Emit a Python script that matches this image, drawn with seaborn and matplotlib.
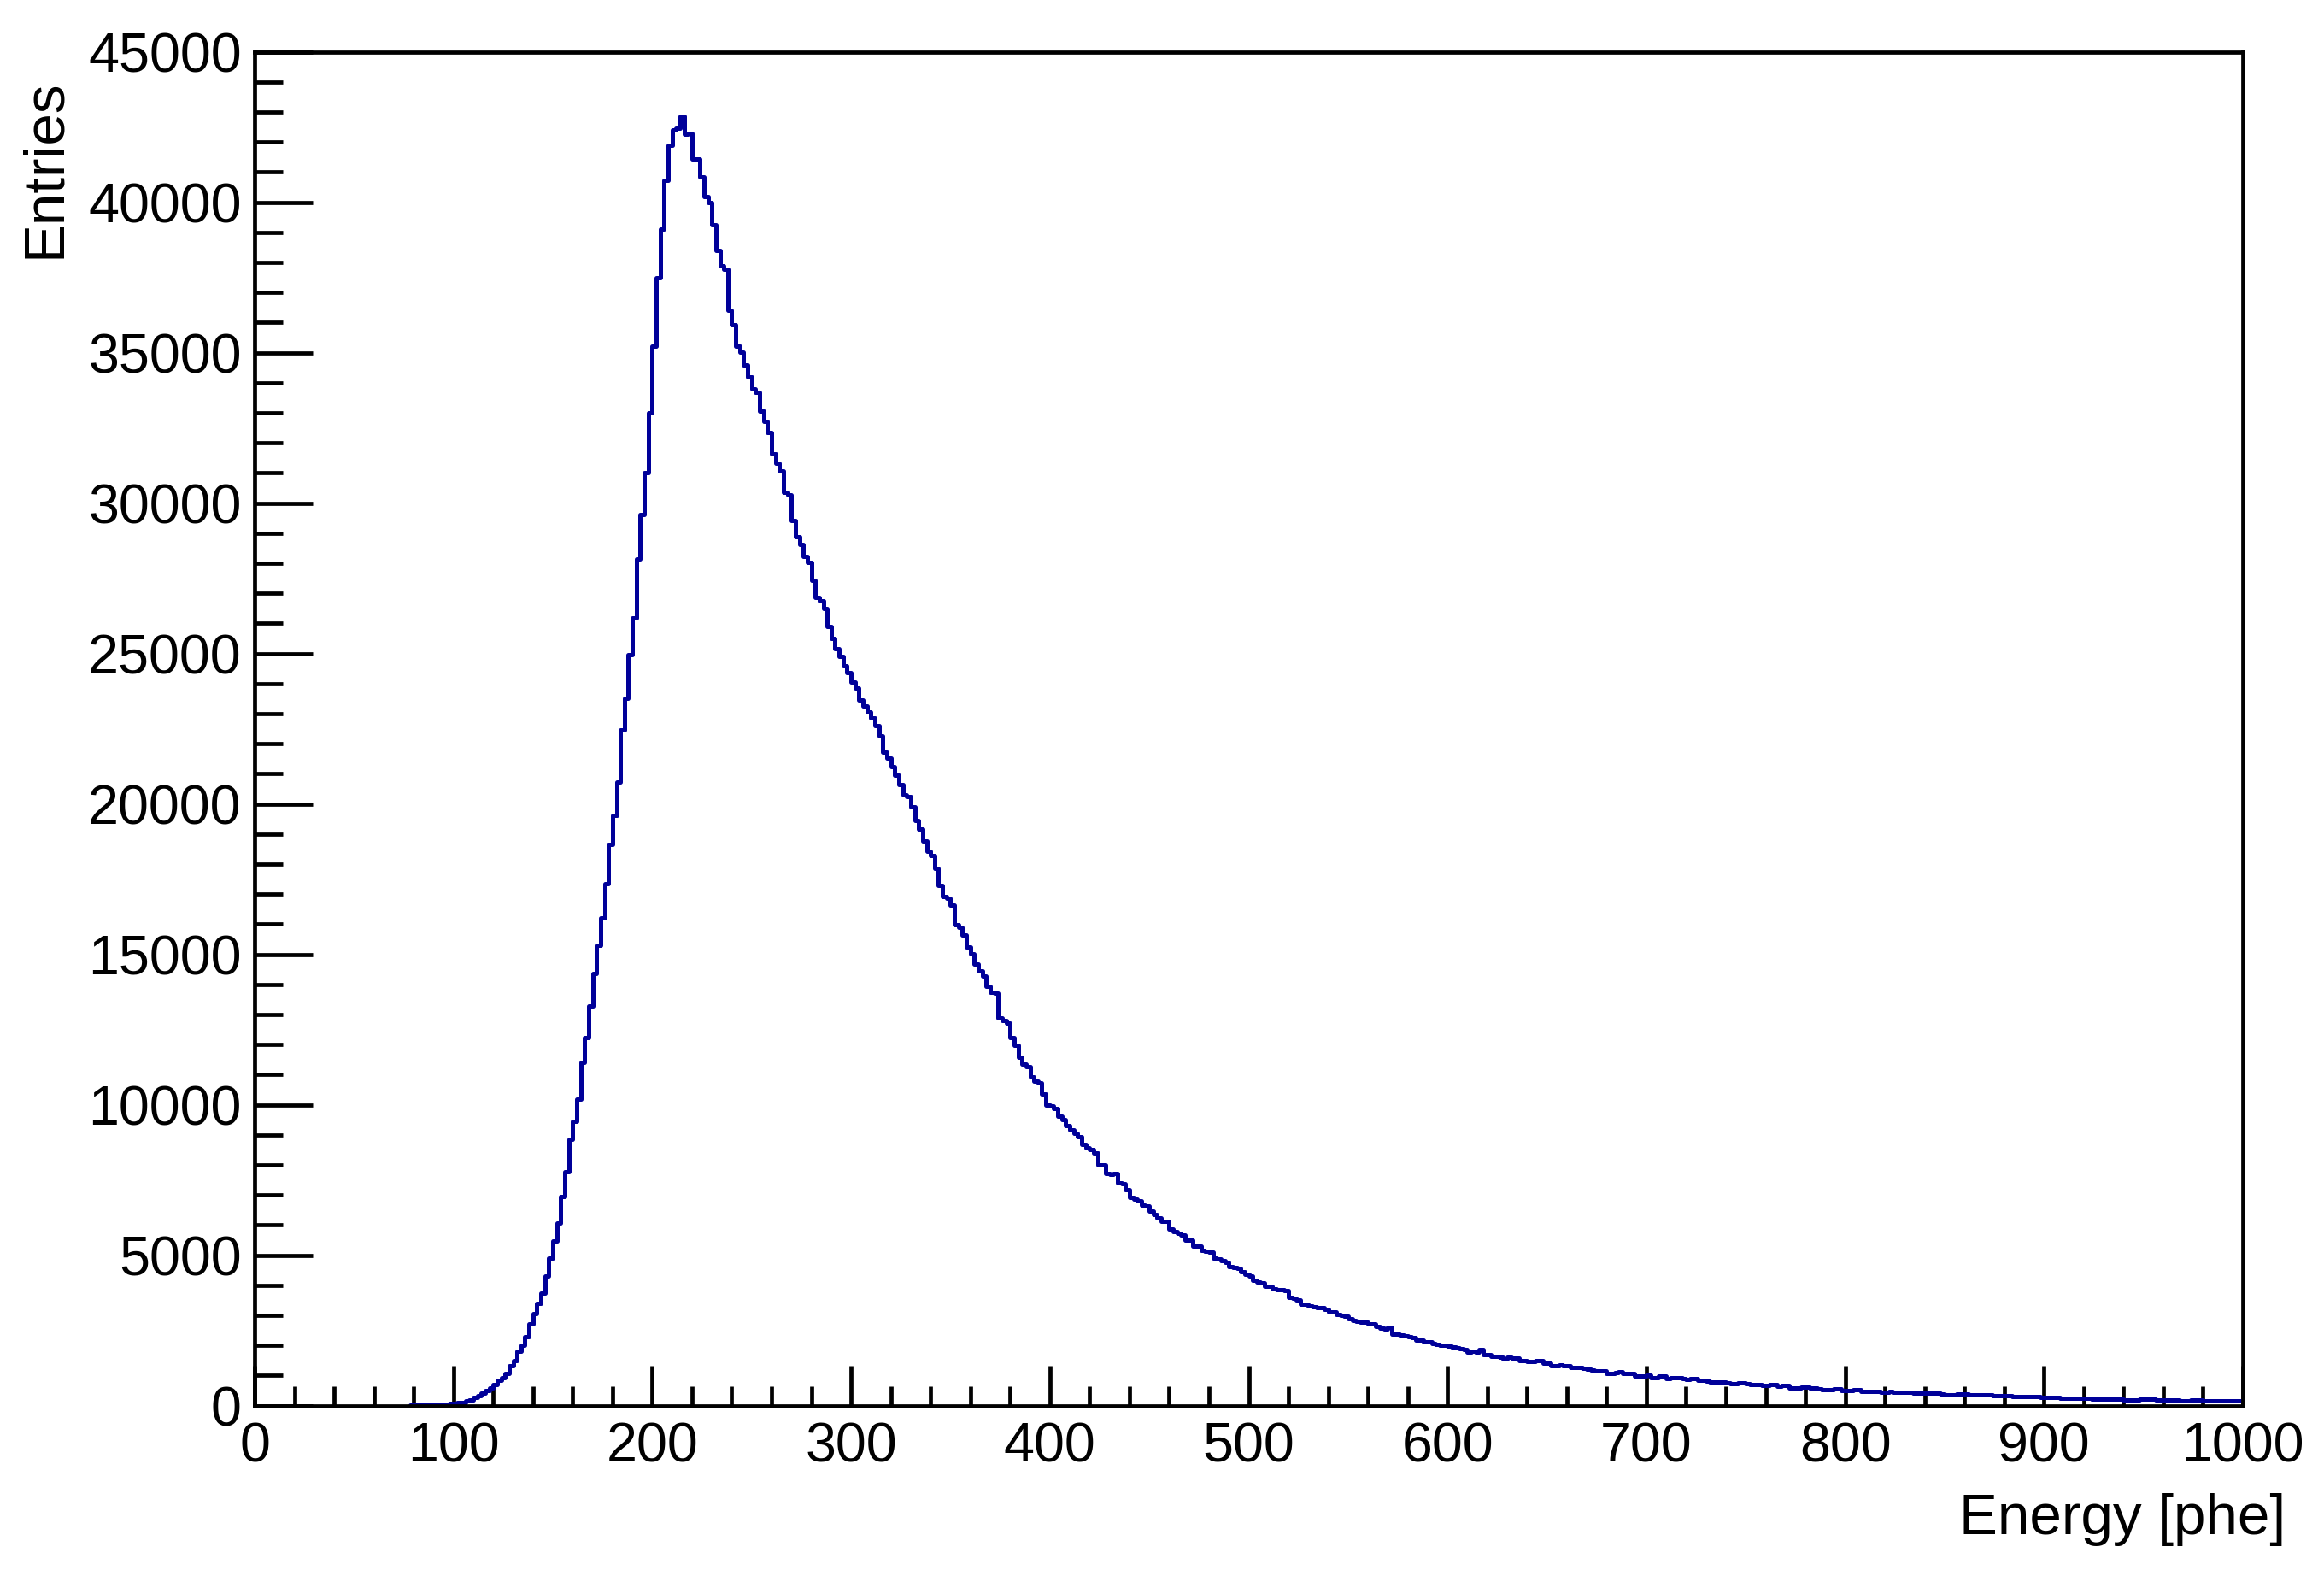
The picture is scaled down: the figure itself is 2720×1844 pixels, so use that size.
import numpy as np
import pandas as pd
import matplotlib
matplotlib.use("Agg")
import matplotlib.pyplot as plt
from matplotlib.ticker import MultipleLocator, StrMethodFormatter
import seaborn as sns

# ---------------- data (bin width 2 phe, 0..1000) ----------------
bin_width = 2
x_min, x_max = 0, 1000
counts = [
    0, 0, 0, 0, 0, 0, 0, 0, 0, 0,
    0, 0, 0, 0, 0, 0, 0, 0, 0, 0,
    0, 0, 0, 0, 0, 0, 0, 0, 0, 0,
    0, 0, 0, 0, 0, 0, 0, 0, 0, 5,
    8, 10, 14, 18, 22, 28, 35, 42, 50, 60,
    80, 95, 110, 155, 190, 260, 330, 400, 485, 570,
    710, 850, 935, 1060, 1320, 1490, 1800, 2010, 2300, 2700,
    3050, 3400, 3750, 4310, 4900, 5470, 6080, 6950, 7760, 8850,
    9460, 10200, 11410, 12230, 13270, 14360, 15290, 16210, 17340, 18640,
    19620, 20720, 22450, 23520, 24960, 26170, 28150, 29610, 31010, 33010,
    35220, 37500, 39100, 40720, 41900, 42410, 42470, 42860, 42250, 42300,
    41430, 41440, 40830, 40200, 39980, 39240, 38410, 37890, 37770, 36400,
    35920, 35220, 35020, 34580, 34200, 33810, 33690, 33070, 32730, 32350,
    31650, 31330, 31070, 30370, 30270, 29420, 28870, 28620, 28230, 28020,
    27440, 26870, 26740, 26490, 25890, 25500, 25150, 24900, 24600, 24350,
    24050, 23850, 23450, 23250, 23050, 22850, 22600, 22270, 21730, 21530,
    21240, 20960, 20640, 20310, 20230, 19900, 19450, 19170, 18760, 18430,
    18270, 17860, 17290, 16930, 16850, 16640, 15990, 15900, 15630, 15250,
    15010, 14680, 14440, 14270, 13950, 13740, 13700, 12890, 12800, 12720,
    12230, 11990, 11580, 11340, 11260, 10930, 10770, 10730, 10360, 9980,
    9950, 9870, 9620, 9510, 9300, 9170, 9050, 8940, 8680, 8560,
    8510, 8400, 8000, 7990, 7700, 7690, 7700, 7400, 7380, 7160,
    6930, 6860, 6810, 6660, 6630, 6460, 6360, 6230, 6130, 6110,
    5860, 5790, 5730, 5660, 5510, 5490, 5310, 5290, 5160, 5130,
    5110, 4900, 4870, 4820, 4770, 4620, 4600, 4570, 4440, 4370,
    4300, 4170, 4100, 4070, 3970, 3950, 3870, 3860, 3840, 3820,
    3600, 3570, 3520, 3370, 3360, 3320, 3280, 3260, 3240, 3200,
    3120, 3100, 3020, 3000, 2970, 2870, 2840, 2800, 2780, 2770,
    2720, 2700, 2620, 2570, 2550, 2600, 2380, 2380, 2350, 2310,
    2280, 2250, 2180, 2170, 2130, 2110, 2050, 2030, 2010, 1990,
    1975, 1946, 1930, 1880, 1870, 1785, 1790, 1780, 1852, 1691,
    1700, 1643, 1624, 1615, 1549, 1596, 1590, 1580, 1501, 1495,
    1454, 1460, 1492, 1490, 1407, 1400, 1312, 1320, 1340, 1335,
    1330, 1265, 1260, 1255, 1245, 1198, 1170, 1151, 1145, 1150,
    1075, 1070, 1080, 1122, 1075, 1070, 1068, 980, 975, 978,
    999, 933, 930, 975, 975, 905, 923, 920, 918, 886,
    880, 895, 890, 829, 825, 822, 790, 786, 772, 770,
    765, 715, 713, 744, 740, 735, 696, 694, 690, 677,
    672, 695, 690, 630, 668, 665, 592, 590, 588, 600,
    598, 596, 590, 554, 535, 533, 530, 554, 550, 507,
    505, 505, 525, 522, 469, 467, 465, 462, 459, 452,
    450, 455, 452, 448, 440, 438, 435, 412, 410, 408,
    405, 402, 400, 398, 396, 365, 362, 360, 380, 378,
    375, 360, 358, 356, 354, 352, 345, 330, 328, 336,
    334, 325, 298, 296, 294, 292, 290, 288, 285, 283,
    281, 279, 270, 268, 252, 250, 248, 246, 244, 242,
    240, 238, 225, 223, 208, 206, 205, 215, 213, 211,
    196, 194, 180, 178, 222, 220, 218, 200, 198, 196,
    188, 186, 184, 182, 170, 168, 166, 195, 193, 191,
    168, 165, 163, 160, 158, 156, 155, 154, 152, 150,
]
x_label = "Energy [phe]"
y_label = "Entries"
y_max = 45000

# ---------------- build table ----------------
n_bins = len(counts)
centers = x_min + bin_width * (np.arange(n_bins) + 0.5)
df = pd.DataFrame({"energy": centers, "entries": counts})
first = int(np.argmax(np.array(counts) > 0))
df_nz = df.iloc[first:].reset_index(drop=True)
start_edge = float(x_min + first * bin_width)

# ---------------- style ----------------
sns.set_theme(style="white")
plt.rcParams["font.family"] = ["Liberation Sans", "DejaVu Sans"]
plt.rcParams["text.color"] = "black"
plt.rcParams["axes.labelcolor"] = "black"
plt.rcParams["xtick.color"] = "black"
plt.rcParams["ytick.color"] = "black"

W, H = 2720, 1844
fig = plt.figure(figsize=(W / 100, H / 100), dpi=100)
ax_l, ax_r, ax_t, ax_b = 298, 2625, 60.7, 1644.5
ax = fig.add_axes([ax_l / W, 1 - ax_b / H, (ax_r - ax_l) / W, (ax_b - ax_t) / H])

sns.histplot(data=df_nz, x="energy", weights="entries",
             binwidth=bin_width, binrange=(start_edge, float(x_max)),
             element="step", fill=False, color="#000099", linewidth=3.6,
             ax=ax)

ax.set_xlim(x_min, x_max)
ax.set_ylim(0, y_max)

for s in ax.spines.values():
    s.set_visible(True)
    s.set_color("black")
    s.set_linewidth(3.4)
    s.set_zorder(5)

ax.xaxis.set_major_locator(MultipleLocator(100))
ax.xaxis.set_minor_locator(MultipleLocator(20))
ax.yaxis.set_major_locator(MultipleLocator(5000))
ax.yaxis.set_minor_locator(MultipleLocator(1000))
ax.xaxis.set_major_formatter(StrMethodFormatter("{x:.0f}"))
ax.yaxis.set_major_formatter(StrMethodFormatter("{x:.0f}"))

ax.tick_params(axis="x", which="major", direction="in", length=34, width=3.4,
               pad=14, labelsize=46.5, colors="black", bottom=True, top=False)
ax.tick_params(axis="x", which="minor", direction="in", length=16.5, width=3.4,
               bottom=True, top=False)
ax.tick_params(axis="y", which="major", direction="in", length=49, width=3.4,
               pad=11, labelsize=46.5, colors="black", left=True, right=False)
ax.tick_params(axis="y", which="minor", direction="in", length=24, width=3.4,
               left=True, right=False)

ax.set_xlabel(x_label, fontsize=48.5, ha="right", va="baseline", color="black")
ax.xaxis.set_label_coords((2675 - ax_l) / (ax_r - ax_l), -(1795 - ax_b) / (ax_b - ax_t))
ax.set_ylabel(y_label, fontsize=48.5, ha="right", va="bottom", color="black")
ax.yaxis.set_label_coords(-(ax_l - 84) / (ax_r - ax_l), (ax_b - 92) / (ax_b - ax_t))

fig.savefig("out.png", dpi=100, facecolor="white")
